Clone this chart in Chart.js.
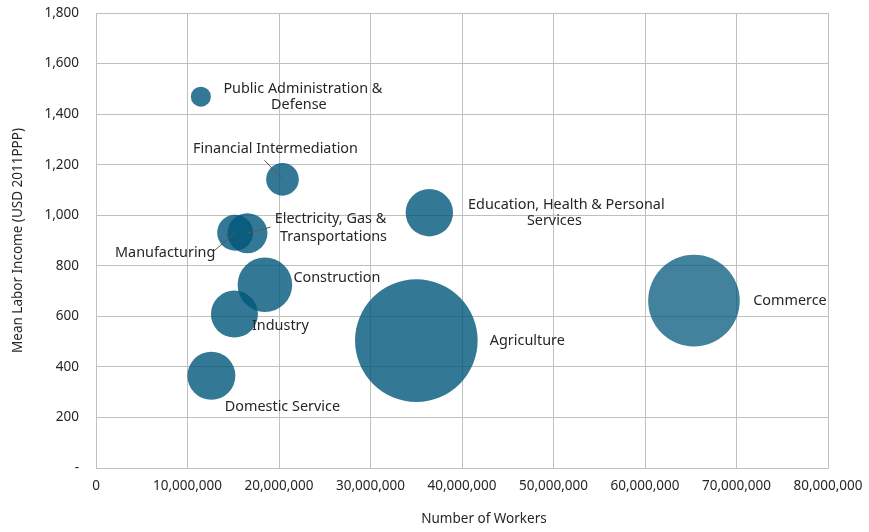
<!DOCTYPE html>
<html>
<head>
<meta charset="utf-8">
<script src="https://cdn.jsdelivr.net/npm/chart.js@4"></script>
<style>
  html, body { margin: 0; padding: 0; background: #fff; }
  #wrap { width: 869px; height: 532px; }
</style>
</head>
<body>
<div id="wrap"><canvas id="bubbles"></canvas></div>
<script>
// sectors, workers, mean labor income and bubble radius
const sectors = ["Public Administration & Defense", "Financial Intermediation", "Manufacturing",
  "Electricity, Gas & Transportations", "Education, Health & Personal Services", "Construction",
  "Industry", "Domestic Service", "Agriculture", "Commerce"];
const workers = [11460000, 20380000, 15210000, 16550000, 36430000, 18460000, 15130000, 12610000, 35010000, 65350000];
const income = [1469, 1142, 931, 929, 1010, 725, 609, 365, 504, 662];
const bubbleR = [10, 16.3, 18, 20, 23.7, 27.3, 23.5, 24, 61.3, 45.8];
const xTicks = [0, 10000000, 20000000, 30000000, 40000000, 50000000, 60000000, 70000000, 80000000];

// label lines: text, dx, dy from bubble centre; optional leader end point
const labelLayout = [
  { lines: [["Public Administration &", 102, -8], ["Defense", 98, 8]] },
  { lines: [["Financial Intermediation", -7, -30]], leader: [-18, -19] },
  { lines: [["Manufacturing", -70, 20]], leader: [-22, 19] },
  { lines: [["Electricity, Gas &", 83, -14], ["Transportations", 86, 4]], leader: [23, -6] },
  { lines: [["Education, Health & Personal", 137, -8], ["Services", 125, 8]] },
  { lines: [["Construction", 72, -7]] },
  { lines: [["Industry", 46, 12]] },
  { lines: [["Domestic Service", 71, 31]] },
  { lines: [["Agriculture", 111, 0]] },
  { lines: [["Commerce", 96, 0]] }
];

const colors = workers.map((w, i) => i === 9 ? "rgba(0,86,122,0.74)" : "rgba(0,86,122,0.8)");

const labelPlugin = {
  id: "bubbleLabels",
  afterDatasetsDraw(chart) {
    const ctx = chart.ctx;
    const meta = chart.getDatasetMeta(0);
    const area = chart.chartArea;
    ctx.save();
    meta.data.forEach((pt, i) => {
      const lay = labelLayout[i];
      if (lay.leader) {
        ctx.strokeStyle = "#595959";
        ctx.lineWidth = 1;
        ctx.beginPath();
        ctx.moveTo(pt.x, pt.y);
        ctx.lineTo(pt.x + lay.leader[0], pt.y + lay.leader[1]);
        ctx.stroke();
      }
      ctx.fillStyle = "#262626";
      ctx.font = "14.4px 'Noto Sans'";
      ctx.textAlign = "center";
      ctx.textBaseline = "middle";
      lay.lines.forEach(l => ctx.fillText(l[0], pt.x + l[1], pt.y + l[2]));
    });
    // x axis title, sits a little right of the plot centre
    ctx.font = "13.5px 'Noto Sans'";
    ctx.fillText("Number of Workers", area.left + area.width * 0.53, area.bottom + 51);
    ctx.restore();
  }
};

Chart.defaults.font.family = "'Noto Sans'";
Chart.defaults.color = "#262626";

new Chart(document.getElementById("bubbles"), {
  type: "bubble",
  data: {
    datasets: [{
      label: "Sectors",
      data: workers.map((w, i) => ({ x: w, y: income[i], r: bubbleR[i] })),
      backgroundColor: colors,
      borderWidth: 0,
      hoverRadius: 0
    }]
  },
  options: {
    responsive: true,
    maintainAspectRatio: false,
    animation: false,
    events: [],
    layout: { autoPadding: false, padding: { top: 13, right: 41, left: 6, bottom: 0 } },
    plugins: { legend: { display: false }, tooltip: { enabled: false } },
    scales: {
      x: {
        type: "linear",
        min: 0, max: 80000000,
        afterBuildTicks: s => { s.ticks = xTicks.map(v => ({ value: v })); },
        afterFit: s => { s.height = 64; s.paddingLeft = 0; s.paddingRight = 0; },
        grid: { color: "#bfbfbf", drawTicks: false },
        border: { color: "#bfbfbf" },
        ticks: {
          padding: 10,
          font: { size: 13.5 },
          color: "#262626",
          maxRotation: 0,
          callback: v => v.toLocaleString("en-US")
        },
        title: { display: false }
      },
      y: {
        min: 0, max: 1800,
        afterFit: s => { s.width = 90; s.paddingTop = 0; s.paddingBottom = 0; },
        grid: { color: "#bfbfbf", drawTicks: false },
        border: { color: "#bfbfbf" },
        ticks: {
          stepSize: 200,
          padding: 17,
          font: { size: 13.5 },
          color: "#262626",
          callback: v => v === 0 ? "-" : v.toLocaleString("en-US")
        },
        title: { display: true, text: "Mean Labor Income (USD 2011PPP)", font: { size: 13.5 }, color: "#262626", padding: { bottom: 6 } }
      }
    }
  },
  plugins: [labelPlugin]
});
</script>
</body>
</html>
